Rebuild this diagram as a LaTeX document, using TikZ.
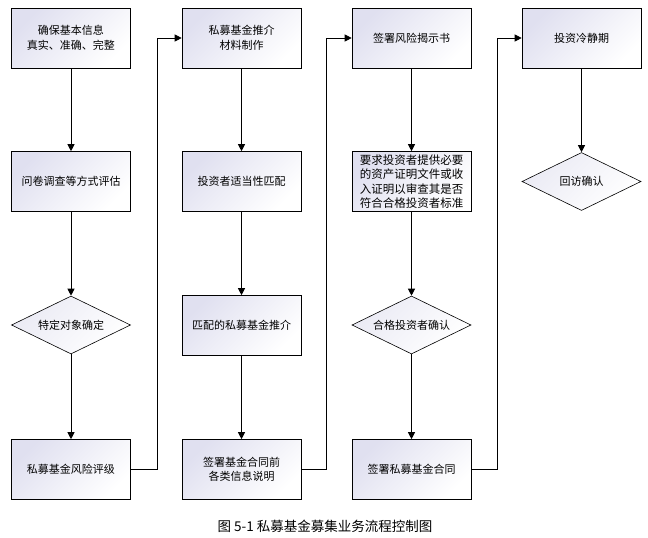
\documentclass[tikz,border=0pt]{standalone}
\usepackage{fontspec}
\setmainfont{Noto Sans CJK SC}
\usetikzlibrary{arrows.meta,shapes.geometric}
\definecolor{boxshade}{RGB}{224,224,240}
\definecolor{choiceshade}{RGB}{234,234,244}
\begin{document}
\begin{tikzpicture}[x=1pt,y=-1pt,
    every node/.style={font=\fontsize{11}{14.5}\selectfont},
    stepbox/.style={draw,line width=0.6pt,top color=boxshade,bottom color=white,shading angle=45,
        minimum width=119pt,minimum height=60pt,inner sep=2pt,align=center},
    choice/.style={draw,line width=0.6pt,diamond,top color=choiceshade,bottom color=white,shading angle=45,
        minimum width=119pt,minimum height=58pt,inner sep=0pt,aspect=2},
    flow/.style={line width=1pt,-{Triangle[length=7pt,width=7pt]}},
    link/.style={line width=0.8pt,-{Triangle[length=7pt,width=7pt]}}]
        \useasboundingbox (0,0) rectangle (648,538);
        \node[stepbox] (infoa) at (71, 38){确保基本信息\\真实、准确、完整};
        \node[stepbox] (infob) at (71, 181.5){问卷调查等方式评估};
        \node[choice] (infoc) at (71, 325){特定对象确定};
        \node[stepbox] (infod) at (71, 469.5){私募基金风险评级};
            \draw[flow] (infoa) -- (infob);
            \draw[flow] (infob) -- (infoc);
            \draw[flow] (infoc) -- (infod);
        \node[stepbox] (recoa) at (241.5, 38){私募基金推介\\材料制作};
        \node[stepbox] (recob) at (241.5, 181.5){投资者适当性匹配};
        \node[stepbox] (recoc) at (241.5, 325.5){匹配的私募基金推介};
        \node[stepbox] (recod) at (241.5, 469.5){签署基金合同前\\各类信息说明};
            \draw[flow] (recoa) -- (recob);
            \draw[flow] (recob) -- (recoc);
            \draw[flow] (recoc) -- (recod);
        \node[stepbox] (signa) at (411.5, 38){签署风险揭示书};
        \node[stepbox,inner sep=1pt,font=\fontsize{11.5}{14.5}\selectfont] (signb) at (411.5, 181.5)
            {要求投资者提供必要\\的资产证明文件或收\\入证明以审查其是否\\符合合格投资者标准};
        \node[choice] (signc) at (411.5, 325){合格投资者确认};
        \node[stepbox] (signd) at (411.5, 469.5){签署私募基金合同};
            \draw[flow] (signa) -- (signb);
            \draw[flow] (signb) -- (signc);
            \draw[flow] (signc) -- (signd);
        \node[stepbox] (calma) at (581.5, 38){投资冷静期};
        \node[choice] (calmb) at (581.5, 181.5){回访确认};
            \draw[flow] (calma) -- (calmb);
        \draw[link] (infod.east) -- ++(26.5,0) |- (recoa.west);
        \draw[link] (recod.east) -- ++(25,0) |- (signa.west);
        \draw[link] (signd.east) -- ++(26,0) |- (calma.west);
        \node (caption) at (325, 526){\fontsize{13.5}{15}\selectfont 图 5-1 私募基金募集业务流程控制图};
\end{tikzpicture}
\end{document}
